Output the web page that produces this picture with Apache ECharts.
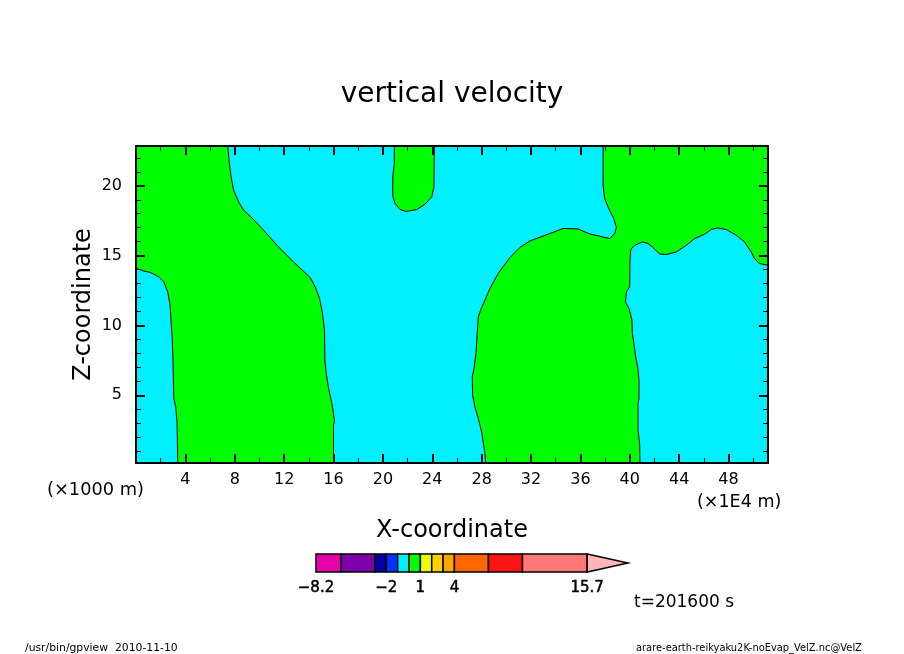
<!DOCTYPE html>
<html lang="en">

<head>
  <meta charset="UTF-8">
  <title>vertical velocity</title>
  <style>
    html, body { margin: 0; padding: 0; background: #fff; }
    #main { width: 904px; height: 654px; }
  </style>
</head>

<body>
  <div id="main"></div>

  <script src="https://cdn.jsdelivr.net/npm/echarts@6/dist/echarts.min.js"></script>
  <script>
    // axis ticks
    var xMajor = [4, 8, 12, 16, 20, 24, 28, 32, 36, 40, 44, 48];
    var xMinor = [2, 6, 10, 14, 18, 22, 26, 30, 34, 38, 42, 46, 50];
    var zMajor = [5, 10, 15, 20];
    var zMinor = [1, 2, 3, 4, 6, 7, 8, 9, 11, 12, 13, 14, 16, 17, 18, 19, 21, 22];
    var xMin = 0, xMax = 51.2, zMin = 0.15, zMax = 22.85;

    // colour bar
    var levels = [-8.2, -6, -3, -2, -1, 0, 1, 2, 3, 4, 7, 10, 15.7];
    var levelColors = ['#e800a8', '#7d00a8', '#0000a8', '#0033ff', '#00f0ff', '#00ff00',
      '#eaff00', '#ffd000', '#ffa500', '#ff6600', '#ff1414', '#ff7878'];
    var levelTicks = [-8.2, -2, 1, 4, 15.7];
    var overColor = '#ffb6b6';
    var tipValue = 19.3;

    // contour of w=0 [x, z]
    var leftPatchEdge = [[0, 14.1], [0.63, 13.9], [1.17, 13.79], [1.85, 13.48], [2.25, 13.12], [2.57, 12.4],
      [2.74, 11.57], [2.79, 11.09], [2.84, 10.25], [2.93, 9.18], [3, 7.5], [3.06, 4.76], [3.22, 4.16],
      [3.33, 2.97], [3.38, 0.15]];
    var leftGreenEdge = [[7.43, 22.85], [7.54, 21.83], [7.7, 20.64], [7.91, 19.68], [8.32, 18.85], [8.67, 18.32],
      [9.53, 17.58], [10.34, 16.82], [11.42, 15.74], [12.76, 14.55], [14.11, 13.43], [14.52, 12.76],
      [14.87, 11.93], [15.06, 11.09], [15.14, 10.61], [15.27, 9.66], [15.3, 7.51], [15.41, 6.55],
      [15.6, 5.48], [15.87, 4.41], [16, 3.69], [16.08, 3.09], [16, 2.92], [16, 0.15]];
    var topBlobEdge = [[20.93, 22.85], [20.93, 21.6], [20.8, 20.64], [20.8, 19.25], [20.99, 18.73], [21.39, 18.3],
      [21.88, 18.16], [22.74, 18.3], [23.41, 18.68], [23.96, 19.2], [24.14, 19.92], [24.17, 22.85]];
    var midEdge = [[37.84, 22.85], [37.84, 20.04], [37.97, 19.09], [38.32, 18.32], [38.7, 17.66], [38.92, 17.01],
      [38.78, 16.58], [38.38, 16.22], [37.57, 16.39], [36.76, 16.55], [35.81, 16.91], [34.6, 16.94],
      [33.53, 16.58], [31.91, 16.05], [31.1, 15.58], [30.29, 14.86], [29.34, 13.72], [28.67, 12.64],
      [27.92, 11.09], [27.73, 10.61], [27.64, 9.42], [27.54, 7.99], [27.38, 6.91], [27.24, 6.31],
      [27.27, 5], [27.46, 4.16], [27.73, 3.33], [28, 2.37], [28.27, 0.82], [28.32, 0.15]];
    var rightEdge = [[51.2, 14.31], [50.51, 14.43], [50.1, 14.79], [49.84, 15.26], [49.3, 15.98], [48.63, 16.46],
      [47.82, 16.87], [47.14, 16.98], [46.6, 16.87], [46.06, 16.53], [45.25, 16.22], [44.58, 15.74],
      [43.77, 15.26], [42.96, 15.08], [42.42, 15.12], [41.88, 15.58], [41.48, 15.87], [41.02, 15.98],
      [40.4, 15.74], [40.08, 15.44], [40.02, 14.67], [39.99, 12.76], [39.73, 12.4], [39.65, 11.68],
      [39.94, 11.21], [40.18, 10.37], [40.21, 9.42], [40.34, 8.7], [40.48, 7.74], [40.66, 6.91],
      [40.75, 6.07], [40.75, 4.76], [40.67, 4.41], [40.67, 2.49], [40.8, 1.54], [40.83, 0.15]];

    var fontName = '"DejaVu Sans"';
    var contours = [leftPatchEdge, leftGreenEdge, topBlobEdge, midEdge, rightEdge];

    // green areas, everything else is the cyan of the grid
    var greenAreas = [
      [[0, zMax]].concat(leftGreenEdge, leftPatchEdge.slice().reverse()),
      topBlobEdge,
      midEdge.concat(rightEdge.slice().reverse(), [[xMax, zMax]])
    ];

    function xAxisOf(position, values, major, withLabel) {
      return {
        type: 'value', gridIndex: 0, position: position, min: xMin, max: xMax, z: 10,
        splitLine: { show: false },
        axisLine: { show: major, onZero: false, lineStyle: { color: '#000', width: 2 } },
        axisTick: {
          show: true, inside: true, length: major ? 9 : 5, customValues: values,
          lineStyle: { color: '#000', width: major ? 2 : 1 }
        },
        axisLabel: {
          show: withLabel, inside: false, customValues: values, margin: 9,
          color: '#000', fontFamily: fontName, fontSize: 16
        }
      };
    }

    function zAxisOf(position, values, major, withLabel) {
      return {
        type: 'value', gridIndex: 0, position: position, min: zMin, max: zMax, z: 10,
        splitLine: { show: false },
        axisLine: { show: major, onZero: false, lineStyle: { color: '#000', width: 2 } },
        axisTick: {
          show: true, inside: true, length: major ? 9 : 5, customValues: values,
          lineStyle: { color: '#000', width: major ? 2 : 1 }
        },
        axisLabel: {
          show: withLabel, inside: false, customValues: values, margin: 14,
          color: '#000', fontFamily: fontName, fontSize: 16
        }
      };
    }

    var xAxes = [
      xAxisOf('bottom', xMajor, true, true),
      xAxisOf('bottom', xMinor, false, false),
      xAxisOf('top', xMajor, true, false),
      xAxisOf('top', xMinor, false, false)
    ];
    xAxes[0].name = 'X-coordinate';
    xAxes[0].nameLocation = 'middle';
    xAxes[0].nameGap = 56;
    xAxes[0].nameTextStyle = { color: '#000', fontFamily: fontName, fontSize: 24 };

    var zAxes = [
      zAxisOf('left', zMajor, true, true),
      zAxisOf('left', zMinor, false, false),
      zAxisOf('right', zMajor, true, false),
      zAxisOf('right', zMinor, false, false)
    ];
    zAxes[0].name = 'Z-coordinate';
    zAxes[0].nameLocation = 'middle';
    zAxes[0].nameGap = 40;
    zAxes[0].nameMoveOverlap = false;
    zAxes[0].nameTextStyle = { color: '#000', fontFamily: fontName, fontSize: 24 };

    // colour bar axes
    xAxes.push({
      type: 'value', gridIndex: 1, min: levels[0], max: tipValue,
      splitLine: { show: false }, axisLine: { show: false }, axisTick: { show: false },
      axisLabel: {
        customValues: levelTicks, margin: 9, color: '#000', fontFamily: fontName, fontSize: 15,
        textBorderColor: '#000', textBorderWidth: 0.5,
        formatter: function (v) { return String(v).replace('-', '\u2212'); }
      }
    });
    zAxes.push({ type: 'value', gridIndex: 1, min: 0, max: 1, show: false });

    var series = [];

    series.push({
      type: 'custom', xAxisIndex: 0, yAxisIndex: 0, z: 1, silent: true,
      data: greenAreas.map(function (a, i) { return [i]; }),
      renderItem: function (params, api) {
        var pts = greenAreas[api.value(0)].map(function (p) { return api.coord(p); });
        return { type: 'polygon', shape: { points: pts }, style: { fill: '#00ff00' } };
      }
    });

    contours.forEach(function (edge) {
      series.push({
        type: 'line', xAxisIndex: 0, yAxisIndex: 0, z: 2, silent: true, data: edge,
        showSymbol: false, symbol: 'none', lineStyle: { color: '#000', width: 1 }
      });
    });

    // colour bar boxes
    series.push({
      type: 'custom', xAxisIndex: 4, yAxisIndex: 4, z: 2, silent: true,
      data: levelColors.map(function (c, i) { return [levels[i], levels[i + 1], i]; }),
      renderItem: function (params, api) {
        var a = api.coord([api.value(0), 1]);
        var b = api.coord([api.value(1), 0]);
        return {
          type: 'rect',
          shape: { x: a[0], y: a[1], width: b[0] - a[0], height: b[1] - a[1] },
          style: { fill: levelColors[api.value(2)], stroke: '#000', lineWidth: 1.5 }
        };
      }
    });

    // over-range arrow
    series.push({
      type: 'custom', xAxisIndex: 4, yAxisIndex: 4, z: 2, silent: true,
      data: [[levels[levels.length - 1], tipValue]],
      renderItem: function (params, api) {
        var pts = [
          api.coord([api.value(0), 1]),
          api.coord([api.value(1), 0.5]),
          api.coord([api.value(0), 0])
        ];
        return { type: 'polygon', shape: { points: pts }, style: { fill: overColor, stroke: '#000', lineWidth: 1.5 } };
      }
    });

    function note(text, x, y, size, align) {
      return {
        type: 'text', x: x, y: y, silent: true,
        style: { text: text, fill: '#000', font: size + 'px ' + fontName, textAlign: align || 'left', textVerticalAlign: 'middle' }
      };
    }

    var myChart = echarts.init(document.getElementById('main'), null, { renderer: 'canvas' });
    myChart.setOption({
      animation: false,
      backgroundColor: '#fff',
      title: {
        text: 'vertical velocity', left: 447, top: 76, textAlign: 'center',
        textStyle: { color: '#000', fontFamily: fontName, fontSize: 28, fontWeight: 'normal' }
      },
      grid: [
        { left: 136, top: 146, width: 632, height: 317, show: true, backgroundColor: '#00f0ff', borderWidth: 0 },
        { left: 316, top: 554, width: 312, height: 18 }
      ],
      xAxis: xAxes,
      yAxis: zAxes,
      series: series,
      graphic: [
        note('(\u00d71000 m)', 47, 490, 17.8),
        note('(\u00d71E4 m)', 697, 502, 17.5),
        note('t=201600 s', 634, 603, 17),
        note('/usr/bin/gpview  2010-11-10', 25, 648, 10.8),
        note('arare-earth-reikyaku2K-noEvap_VelZ.nc@VelZ', 636, 648, 9.9)
      ]
    });
  </script>
</body>

</html>
